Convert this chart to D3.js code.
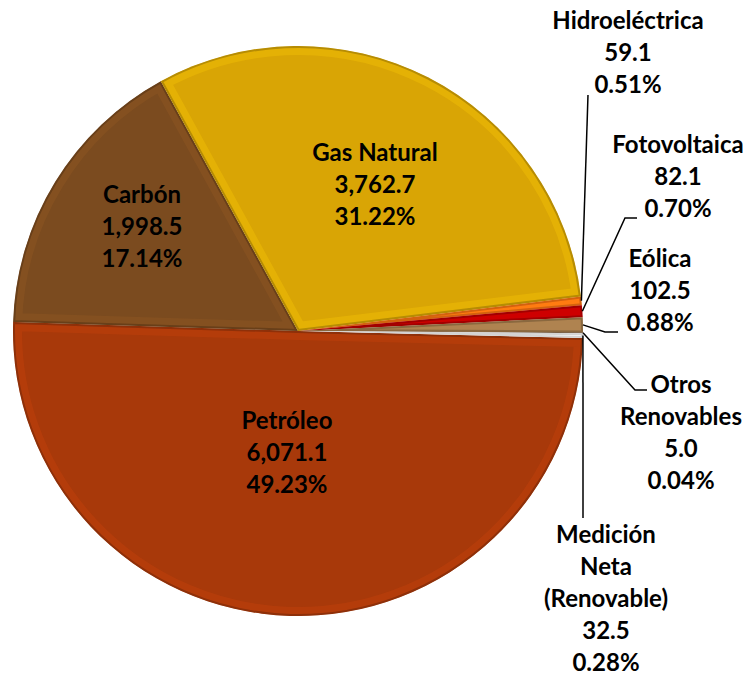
<!DOCTYPE html>
<html>
<head>
<meta charset="utf-8">
<script src="https://cdn.jsdelivr.net/npm/d3@7"></script>
<style>
	body { margin: 0; background: #fff; }
	text { font-family: Lato, "Open Sans", sans-serif; font-weight: bold; fill: #000; }
</style>
</head>
<body>
<div id="chart"></div>
<script>
/* data */
const categories = ["Petróleo", "Carbón", "Gas Natural", "Hidroeléctrica", "Fotovoltaica", "Eólica", "Otros Renovables", "Medición Neta (Renovable)"];
const values = [6071.1, 1998.5, 3762.7, 59.1, 82.1, 102.5, 5.0, 32.5];
const percents = ["49.23%", "17.14%", "31.22%", "0.51%", "0.70%", "0.88%", "0.04%", "0.28%"];
const labelNames = [["Petróleo"], ["Carbón"], ["Gas Natural"], ["Hidroeléctrica"], ["Fotovoltaica"], ["Eólica"], ["Otros", "Renovables"], ["Medición", "Neta", "(Renovable)"]];

const colors = ["#a8390a", "#7b4b1f", "#d9a505", "#ff7411", "#c00000", "#a47a4b", "#6b4a2a", "#ffffff"];

/* label layout: centre x, first baseline, leader points (label side first) */
const labelLayout = [
	{ x: 287, y: 429, leader: null },
	{ x: 142, y: 203, leader: null },
	{ x: 375, y: 161, leader: null },
	{ x: 628, y: 29, leader: [[588, 95]] },
	{ x: 678, y: 153, leader: [[637, 218], [625, 218]] },
	{ x: 660, y: 267, leader: [[618, 332], [605, 332]] },
	{ x: 681, y: 393, leader: [[647, 390], [635, 390]] },
	{ x: 606, y: 543, leader: [[583, 518]] }
];

const width = 749, height = 676;
const cx = 298, cy = 331, radius = 285;
const firstSliceAngle = 91.4; // degrees, clockwise from 12 o'clock
const lineStep = 32;

const fmt = d3.format(",.1f");

const svg = d3.select("#chart").append("svg")
	.attr("width", width)
	.attr("height", height);

const defs = svg.append("defs");

const pie = d3.pie()
	.sort(null)
	.value(d => d.value)
	.startAngle(firstSliceAngle * Math.PI / 180)
	.endAngle(firstSliceAngle * Math.PI / 180 + 2 * Math.PI);

const arc = d3.arc().innerRadius(0).outerRadius(radius);

const rows = categories.map((c, i) => ({ name: c, value: values[i], pct: percents[i], lines: labelNames[i], color: colors[i], layout: labelLayout[i] }));
const arcs = pie(rows);

const g = svg.append("g").attr("transform", `translate(${cx},${cy})`);

/* slices with a simple bevel: light inner rim, dark edge */
arcs.forEach((a, i) => {
	const id = "clip" + i;
	defs.append("clipPath").attr("id", id).append("path").attr("d", arc(a));

	const slice = g.append("g").attr("clip-path", `url(#${id})`);
	const base = d3.color(a.data.color);

	slice.append("path")
		.attr("d", arc(a))
		.attr("fill", base);

	slice.append("path")
		.attr("d", arc(a))
		.attr("fill", "none")
		.attr("stroke", base.brighter(0.6))
		.attr("stroke-opacity", 0.3)
		.attr("stroke-width", 18);

	slice.append("path")
		.attr("d", arc(a))
		.attr("fill", "none")
		.attr("stroke", base.darker(0.8))
		.attr("stroke-opacity", 0.7)
		.attr("stroke-width", 4);
});

/* leader lines from label to the slice edge */
arcs.forEach(a => {
	const lay = a.data.layout;
	if (!lay.leader) return;
	const mid = (a.startAngle + a.endAngle) / 2;
	const edge = [cx + radius * Math.sin(mid), cy - radius * Math.cos(mid)];
	svg.append("path")
		.attr("d", d3.line()(lay.leader.concat([edge])))
		.attr("fill", "none")
		.attr("stroke", "#000")
		.attr("stroke-width", 1.5);
});

/* labels: name lines, value, percent */
arcs.forEach(a => {
	const lay = a.data.layout;
	const lines = a.data.lines.concat([fmt(a.data.value), a.data.pct]);
	const t = svg.append("text")
		.attr("text-anchor", "middle")
		.attr("font-size", 24);
	lines.forEach((l, j) => {
		t.append("tspan")
			.attr("x", lay.x)
			.attr("y", lay.y + j * lineStep)
			.text(l);
	});
});
</script>
</body>
</html>
